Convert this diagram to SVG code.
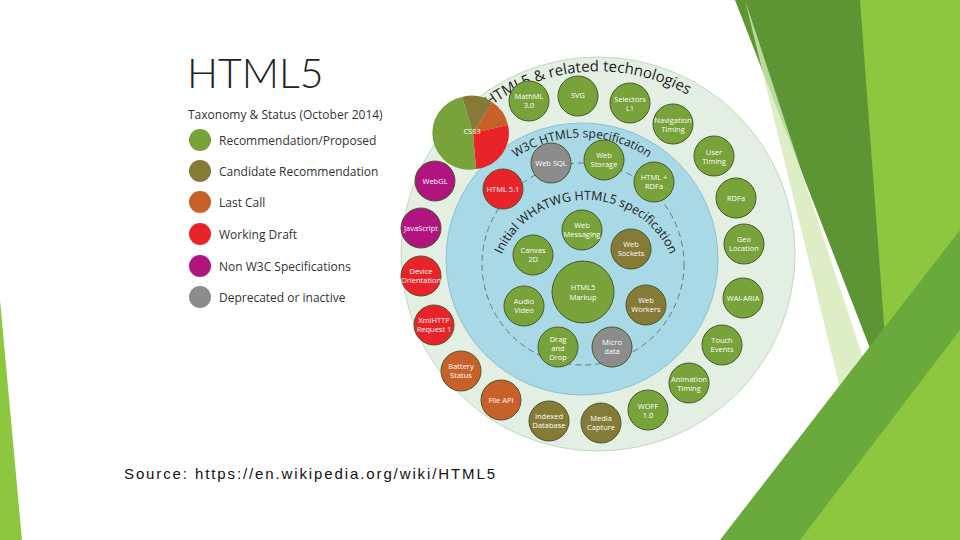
<svg xmlns="http://www.w3.org/2000/svg" width="960" height="540" viewBox="0 0 960 540">
<style>
.n circle{stroke:#4a5a2a;stroke-width:1}
.g{fill:#78a23a}.o{fill:#857a36}.r{fill:#c8602a}.w{fill:#e8242a}.m{fill:#b0157f}.y{fill:#8c8c8c}
.t{font-family:"Open Sans","Liberation Sans",sans-serif;font-size:7.5px;fill:#fff;text-anchor:middle}
.l{font-family:"Open Sans","Liberation Sans",sans-serif;font-size:12px;fill:#333}
.arc{font-family:"Open Sans","Liberation Sans",sans-serif;fill:#222;text-anchor:middle}
</style>
<defs>
<path id="a1" d="M440,162 A183,183 0 0 1 756,162"/>
<path id="a2" d="M480,196 A118,118 0 0 1 684,196"/>
<path id="a3" d="M499.5,260.5 A92,92 0 0 1 672.5,260.5"/>
</defs>
<rect width="960" height="540" fill="#fff"/>
<g id="background">
<polygon points="0,300 22,540 0,540" fill="#8dc63f"/>
<polygon points="735,0 870,0 890,400" fill="#5d9434"/>
<polygon points="860,0 960,0 960,540 900,540" fill="#8dc63f"/>
<polygon points="745,0 900,470 860,470" fill="#d5e8b8" opacity="0.8"/>
<polygon points="720,540 960,230 960,540" fill="#6aaa3c"/>
<polygon points="800,540 960,330 960,540" fill="#8dc63f"/>
</g>
<g id="legend">
<text x="187" y="88" font-family="Lato,'Liberation Sans',sans-serif" font-size="41" fill="#222" font-weight="300">HTML5</text>
<text x="188" y="119" class="l" font-size="13.5">Taxonomy &amp; Status (October 2014)</text>
<circle cx="200" cy="140" r="11" class="g"/><text x="219" y="145" class="l">Recommendation/Proposed</text>
<circle cx="200" cy="171" r="11" class="o"/><text x="219" y="176" class="l">Candidate Recommendation</text>
<circle cx="200" cy="202" r="11" class="r"/><text x="219" y="207" class="l">Last Call</text>
<circle cx="200" cy="234" r="11" class="w"/><text x="219" y="239" class="l">Working Draft</text>
<circle cx="200" cy="266" r="11" class="m"/><text x="219" y="271" class="l">Non W3C Specifications</text>
<circle cx="200" cy="297" r="11" class="y"/><text x="219" y="302" class="l">Deprecated or inactive</text>
</g>
<g id="rings">
<circle cx="598" cy="254" r="197" fill="#e3efe2" stroke="#c5d6c3"/>
<circle cx="582" cy="259" r="136" fill="#a9d8e6" stroke="#8cc2d2"/>
<circle cx="583" cy="264" r="101" fill="none" stroke="#5a7f8c" stroke-dasharray="6,4"/>
<text class="arc" font-size="15"><textPath href="#a1" startOffset="47%">HTML5 &amp; related technologies</textPath></text>
<text class="arc" font-size="12"><textPath href="#a2" startOffset="50%">W3C HTML5 specification</textPath></text>
<text class="arc" font-size="12.5"><textPath href="#a3" startOffset="50%">Initial WHATWG HTML5 specification</textPath></text>
</g>
<g id="css3">
<path d="M473,133 L462,97 A36,36 0 0 1 492,102 Z" class="o"/>
<path d="M473,133 L492,102 A36,36 0 0 1 508,125 Z" class="r"/>
<path d="M473,133 L508,125 A36,36 0 0 1 476,169 Z" class="w"/>
<path d="M473,133 L476,169 A36,36 0 0 1 462,97 Z" class="g"/>
<text x="472" y="134" class="t">CSS3</text>
</g>
<g class="n">
<g id="mathml"><circle cx="529" cy="101" r="20" class="g"/><text x="529" y="99" class="t">MathML<tspan x="529" dy="9">3.0</tspan></text></g>
<g id="svg"><circle cx="578" cy="96" r="20" class="g"/><text x="578" y="98" class="t">SVG</text></g>
<g id="selectors"><circle cx="630" cy="103" r="20" class="g"/><text x="630" y="102" class="t">Selectors<tspan x="630" dy="9">L1</tspan></text></g>
<g id="navtiming"><circle cx="673" cy="124" r="20" class="g"/><text x="673" y="123" class="t">Navigation<tspan x="673" dy="9">Timing</tspan></text></g>
<g id="usertiming"><circle cx="714" cy="156" r="20" class="g"/><text x="714" y="155" class="t">User<tspan x="714" dy="9">Timing</tspan></text></g>
<g id="rdfa"><circle cx="736" cy="198" r="20" class="g"/><text x="736" y="201" class="t">RDFa</text></g>
<g id="geo"><circle cx="744" cy="244" r="20" class="g"/><text x="744" y="242" class="t">Geo<tspan x="744" dy="9">Location</tspan></text></g>
<g id="waiaria"><circle cx="743" cy="298" r="20" class="g"/><text x="743" y="301" class="t">WAI-ARIA</text></g>
<g id="touch"><circle cx="722" cy="345" r="20" class="g"/><text x="722" y="343" class="t">Touch<tspan x="722" dy="9">Events</tspan></text></g>
<g id="animtiming"><circle cx="689" cy="383" r="20" class="g"/><text x="689" y="382" class="t">Animation<tspan x="689" dy="9">Timing</tspan></text></g>
<g id="woff"><circle cx="648" cy="410" r="20" class="g"/><text x="648" y="409" class="t">WOFF<tspan x="648" dy="9">1.0</tspan></text></g>
<g id="mediacapture"><circle cx="601" cy="423" r="20" class="o"/><text x="601" y="421" class="t">Media<tspan x="601" dy="9">Capture</tspan></text></g>
<g id="indexeddb"><circle cx="549" cy="421" r="20" class="o"/><text x="549" y="419" class="t">Indexed<tspan x="549" dy="9">Database</tspan></text></g>
<g id="fileapi"><circle cx="501" cy="400" r="20" class="r"/><text x="501" y="403" class="t">File API</text></g>
<g id="battery"><circle cx="461" cy="371" r="20" class="r"/><text x="461" y="369" class="t">Battery<tspan x="461" dy="9">Status</tspan></text></g>
<g id="xhr"><circle cx="434" cy="325" r="20" class="w"/><text x="434" y="323" class="t">XmlHTTP<tspan x="434" dy="9">Request 1</tspan></text></g>
<g id="deviceorient"><circle cx="421" cy="276" r="20" class="w"/><text x="421" y="274" class="t">Device<tspan x="421" dy="9">Orientation</tspan></text></g>
<g id="javascript"><circle cx="421" cy="228" r="20" class="m"/><text x="421" y="231" class="t">JavaScript</text></g>
<g id="webgl"><circle cx="435" cy="181" r="20" class="m"/><text x="435" y="184" class="t">WebGL</text></g>
<g id="websql"><circle cx="551" cy="163" r="20" class="y"/><text x="551" y="166" class="t">Web SQL</text></g>
<g id="webstorage"><circle cx="604" cy="160" r="20" class="g"/><text x="604" y="158" class="t">Web<tspan x="604" dy="9">Storage</tspan></text></g>
<g id="htmlrdfa"><circle cx="654" cy="182" r="20" class="g"/><text x="654" y="180" class="t">HTML +<tspan x="654" dy="9">RDFa</tspan></text></g>
<g id="html51"><circle cx="503" cy="189" r="20" class="w"/><text x="503" y="192" class="t">HTML 5.1</text></g>
<g id="webmsg"><circle cx="582" cy="230" r="20" class="g"/><text x="582" y="228" class="t">Web<tspan x="582" dy="9">Messaging</tspan></text></g>
<g id="canvas"><circle cx="533" cy="255" r="20" class="g"/><text x="533" y="253" class="t">Canvas<tspan x="533" dy="9">2D</tspan></text></g>
<g id="websockets"><circle cx="631" cy="249" r="20" class="o"/><text x="631" y="247" class="t">Web<tspan x="631" dy="9">Sockets</tspan></text></g>
<g id="markup"><circle cx="583" cy="292" r="31" class="g"/><text x="583" y="290" class="t">HTML5<tspan x="583" dy="10">Markup</tspan></text></g>
<g id="audiovideo"><circle cx="524" cy="306" r="20" class="g"/><text x="524" y="304" class="t">Audio<tspan x="524" dy="9">Video</tspan></text></g>
<g id="webworkers"><circle cx="646" cy="305" r="20" class="o"/><text x="646" y="303" class="t">Web<tspan x="646" dy="9">Workers</tspan></text></g>
<g id="dragdrop"><circle cx="558" cy="347" r="20" class="g"/><text x="558" y="342" class="t">Drag<tspan x="558" dy="9">and</tspan><tspan x="558" dy="9">Drop</tspan></text></g>
<g id="microdata"><circle cx="612" cy="347" r="20" class="y"/><text x="612" y="345" class="t">Micro<tspan x="612" dy="9">data</tspan></text></g>
</g>
<g id="connectors"/>
<text x="124" y="479" font-family="'Liberation Sans',sans-serif" font-size="15" fill="#111" textLength="371">Source: https://en.wikipedia.org/wiki/HTML5</text>
</svg>
